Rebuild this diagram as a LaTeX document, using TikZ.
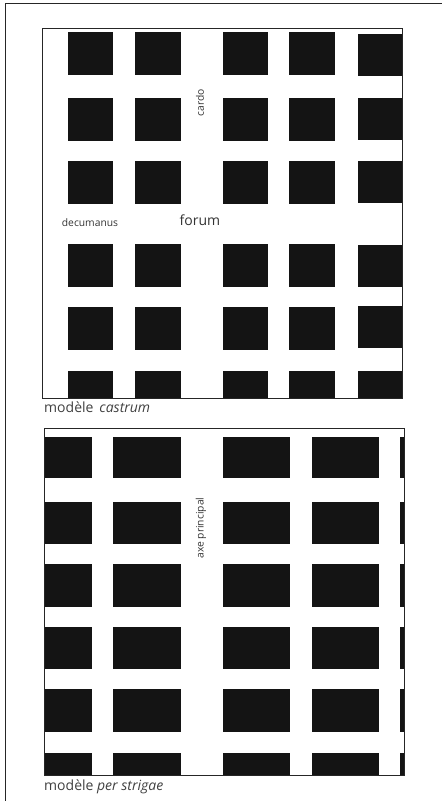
\documentclass[tikz,border=0pt]{standalone}
\usepackage{fontspec}
\setsansfont{Open Sans}
\usetikzlibrary{positioning}
\tikzset{
  block/.style={fill=black!92,draw=none},
  frame/.style={draw=black!85,line width=0.9pt},
  legend/.style={font=\sffamily\fontsize{14}{16}\selectfont,text=black!75,inner sep=0pt,anchor=west},
  street/.style={font=\sffamily\fontsize{10.3}{12}\selectfont,text=black!80,inner sep=0pt},
}
\begin{document}
\begin{tikzpicture}[x=1pt,y=-1pt,font=\sffamily\small]
  \useasboundingbox (0,0) rectangle (442,801);
  % page
  \coordinate (p1) at (5.5,801);
  \coordinate (p2) at (5.5,3.5);
  \coordinate (p3) at (442,3.5);
  \draw[black!85,line width=0.9pt] (p1) -- (p2) -- (p3);
  % castrum
  \foreach \xa/\xb in {68/113,135/181,223/268,289/335}
    \foreach \ya/\yb in {32/75,98/141,161/204,244/287,307/350,371/398}
      \fill[block] (\xa,\ya) rectangle (\xb,\yb);
  \foreach \ya/\yb in {34/76,98/140,161/203,245/287,306/348,371/398}
    \fill[block] (358,\ya) rectangle (403,\yb);
  \draw[frame] (42,28) rectangle (402.5,398);
  \node[street,rotate=90] (cardo) at (200,103) {cardo};
  \node[street] (decumanus) at (90,222.5) {decumanus};
  \node[inner sep=0pt,font=\sffamily\fontsize{14}{16}\selectfont,text=black!80] (forum) at (200,220.5) {forum};
  \node[legend] (m1) at (44,407) {modèle \,\textit{castrum}};
  % per strigas
  \foreach \xa/\xb in {44/92,113/181,223/290,312/379,399.5/404}
    \foreach \ya/\yb in {437/478,502/544,564/607,627/669,689/732,753/775}
      \fill[block] (\xa,\ya) rectangle (\xb,\yb);
  \draw[frame] (44,428) rectangle (404,775);
  \node[street,rotate=90] (axe) at (201,528) {axe principal};
  \node[legend] (m2) at (44,787) {modèle \textit{per strigae}};
\end{tikzpicture}
\end{document}
